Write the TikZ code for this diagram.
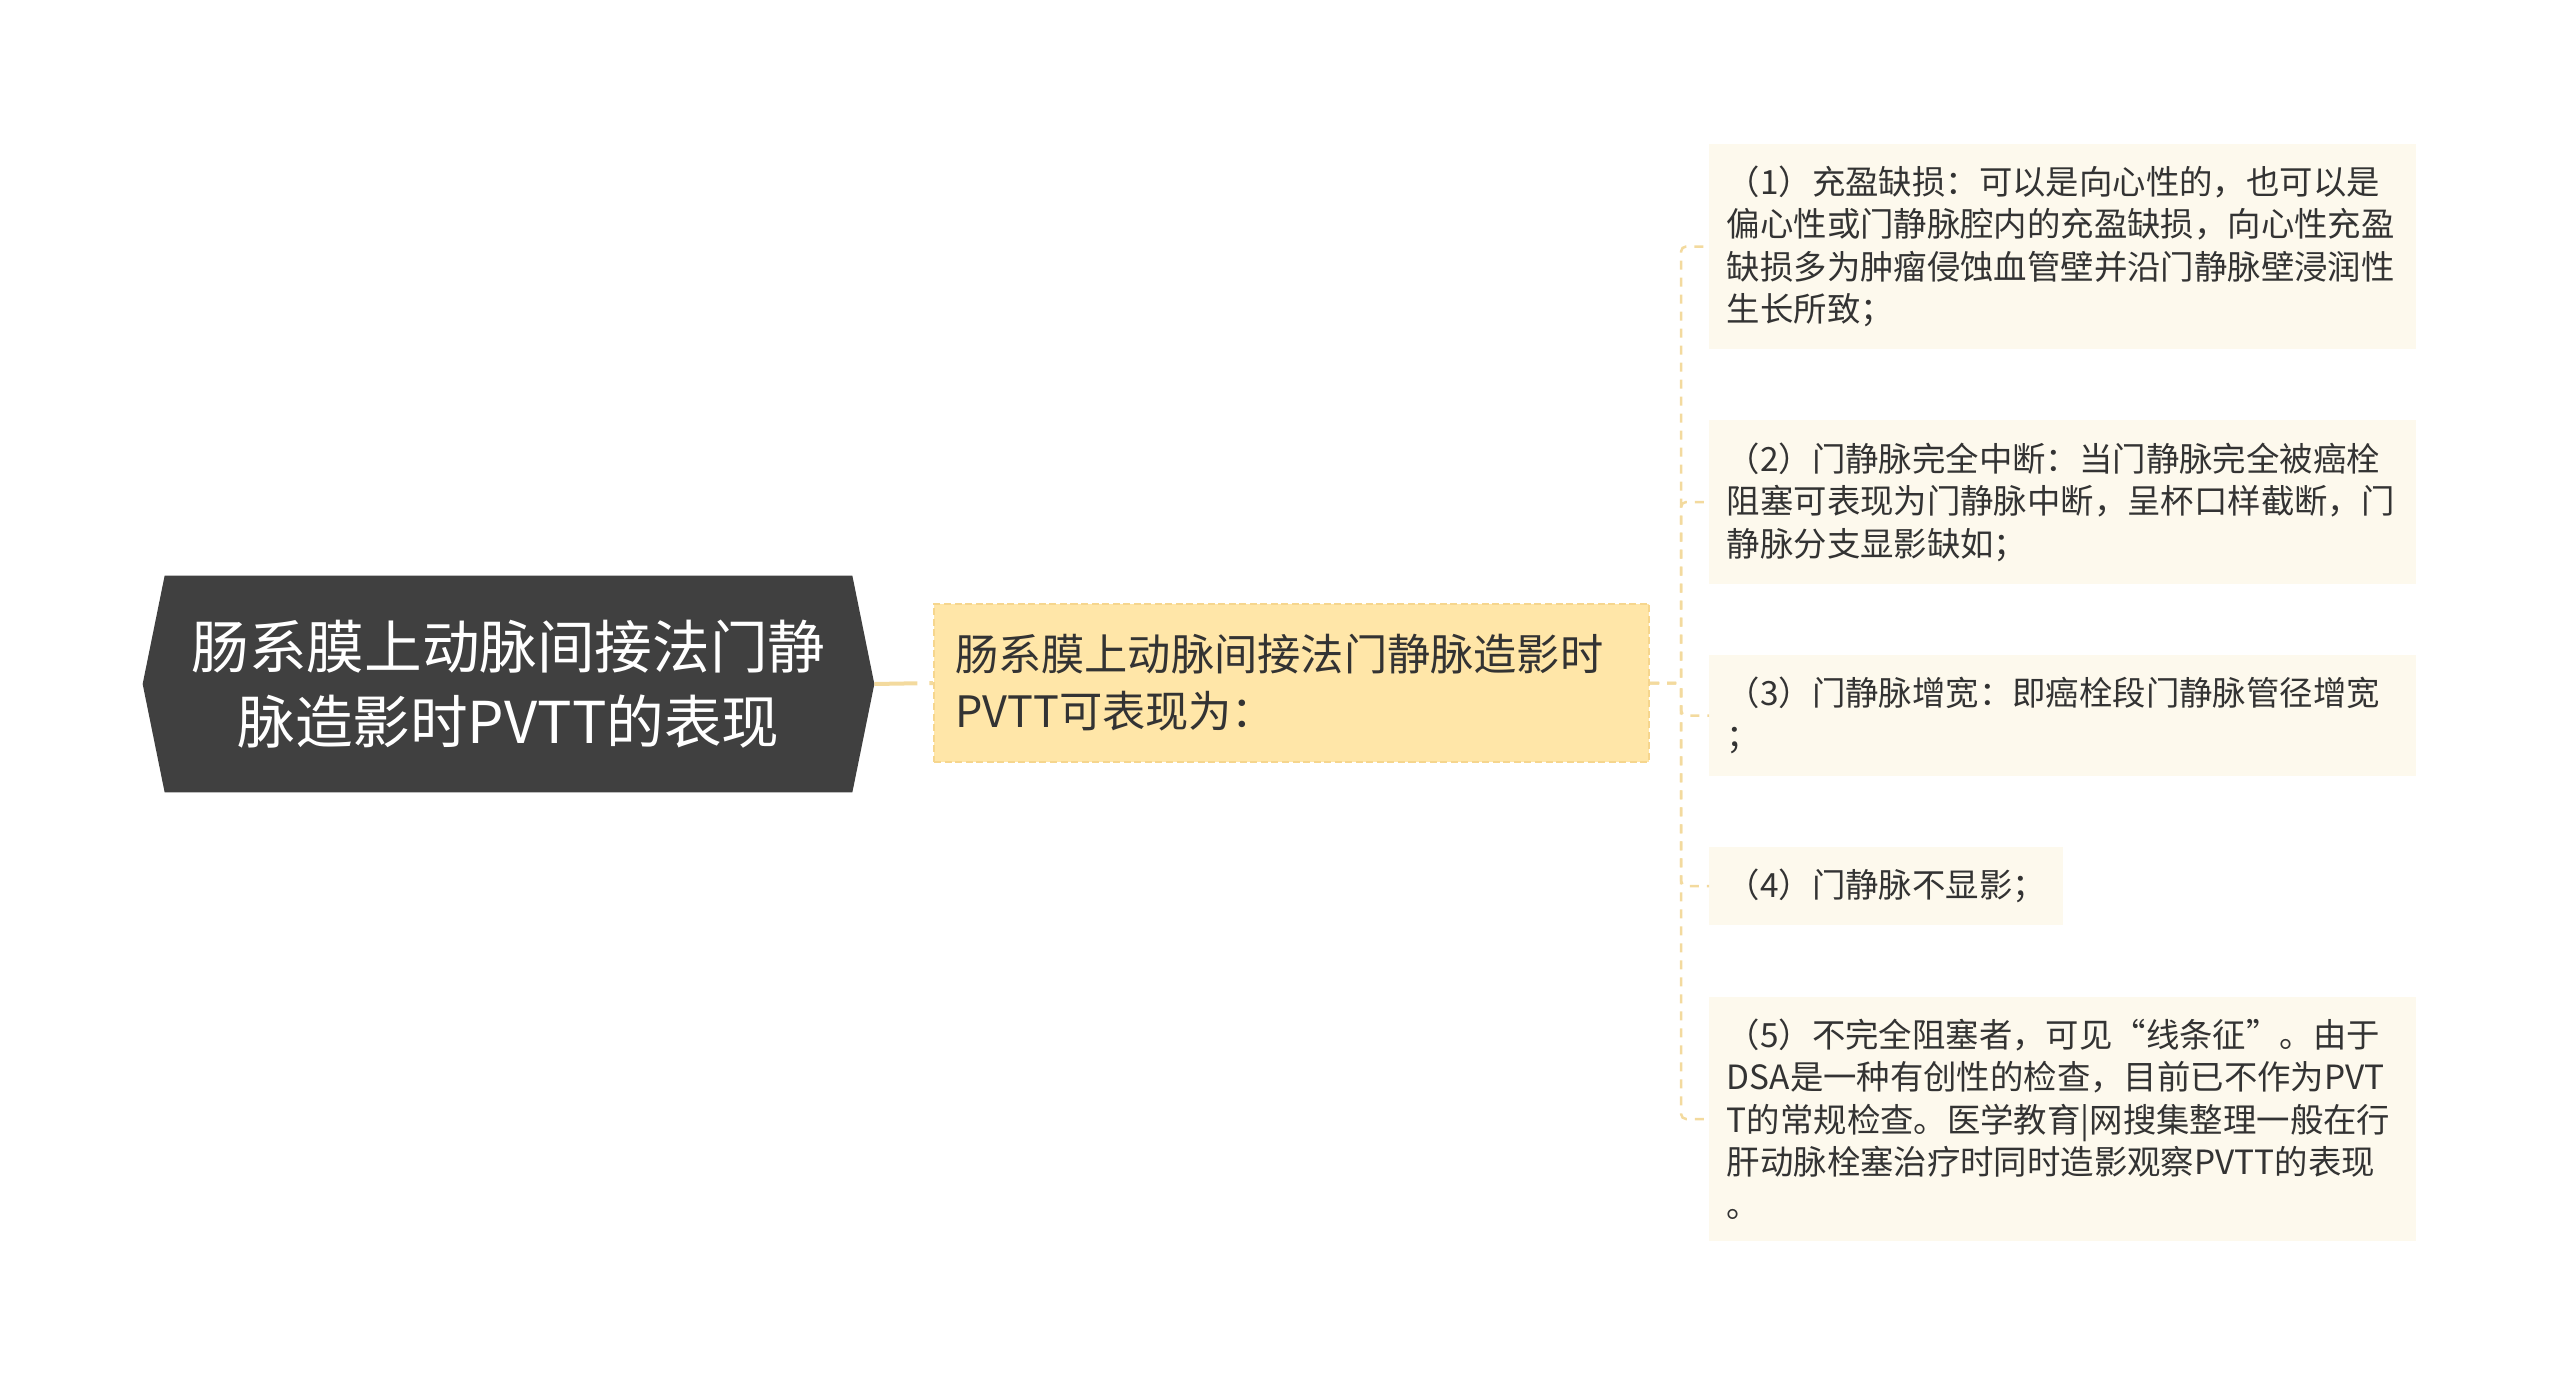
\documentclass[tikz,border=0pt]{standalone}
\usepackage{fontspec}
\newfontfamily\cjk{Noto Sans CJK SC}
\usetikzlibrary{backgrounds}
\definecolor{rootgray}{RGB}{64,64,64}
\definecolor{midfill}{RGB}{255,230,168}
\definecolor{midline}{RGB}{246,214,142}
\definecolor{leaffill}{RGB}{253,249,237}
\definecolor{linkcol}{RGB}{243,218,158}
\definecolor{txt}{RGB}{51,51,51}
\tikzset{
  rootbox/.style={align=center, text=white, inner sep=0pt,
    minimum width=13.74cm, minimum height=4.32cm,
    font=\cjk\fontsize{32.8}{42.7}\selectfont},
  midbox/.style={fill=midfill, draw=midline, dash pattern=on 4pt off 2pt, line width=1.2pt,
    text=txt, align=left, text width=13.46cm, inner xsep=0.42cm, inner ysep=0pt,
    minimum height=3.16cm, font=\cjk\fontsize{24.6}{32.4}\selectfont},
  leaf/.style={fill=leaffill, text=txt, align=left, anchor=west,
    inner xsep=0.35cm, inner ysep=0.44cm, font=\cjk\fontsize{19}{24.2}\selectfont},
  wideleaf/.style={leaf, text width=13.44cm},
  trunk/.style={draw=linkcol, line width=0.08cm, dash pattern=on 0.86cm off 0.24cm},
  twig/.style={draw=linkcol, line width=0.05cm, dash pattern=on 0.18cm off 0.16cm, rounded corners=0.1cm}
}
\begin{document}
\begin{tikzpicture}
\useasboundingbox (0,0) rectangle (51.2,-27.8);

\node[rootbox] (root) at (10.17,-13.68) {肠系膜上动脉间接法门静\\脉造影时PVTT的表现};
\coordinate (roottip) at ([xshift=0.44cm]root.east);
\coordinate (roottail) at ([xshift=-0.44cm]root.west);
\begin{scope}[on background layer]
\fill[rootgray] (root.north west) -- (root.north east) -- (roottip) -- (root.south east)
  -- (root.south west) -- (roottail) -- cycle;
\end{scope}

\node[midbox] (mid) at (25.83,-13.66) {肠系膜上动脉间接法门静脉造影时\\PVTT可表现为：};

\node[wideleaf] (l1) at (34.18,-4.93) {（1）充盈缺损：可以是向心性的，也可以是\\偏心性或门静脉腔内的充盈缺损，向心性充盈\\缺损多为肿瘤侵蚀血管壁并沿门静脉壁浸润性\\生长所致；};
\node[wideleaf] (l2) at (34.18,-10.04) {（2）门静脉完全中断：当门静脉完全被癌栓\\阻塞可表现为门静脉中断，呈杯口样截断，门\\静脉分支显影缺如；};
\node[wideleaf] (l3) at (34.18,-14.31) {（3）门静脉增宽：即癌栓段门静脉管径增宽\\；};
\node[leaf] (l4) at (34.18,-17.72) {（4）门静脉不显影；};
\node[wideleaf] (l5) at (34.18,-22.38) {（5）不完全阻塞者，可见“线条征”。由于\\DSA是一种有创性的检查，目前已不作为PVT\\T的常规检查。医学教育|网搜集整理一般在行\\肝动脉栓塞治疗时同时造影观察PVTT的表现\\。};

\draw[trunk] (roottip) -- (mid.west);
\foreach \n in {1,...,5}
  \draw[twig] (mid.east) -- ++(0.62,0) |- (l\n.west);
\end{tikzpicture}
\end{document}
